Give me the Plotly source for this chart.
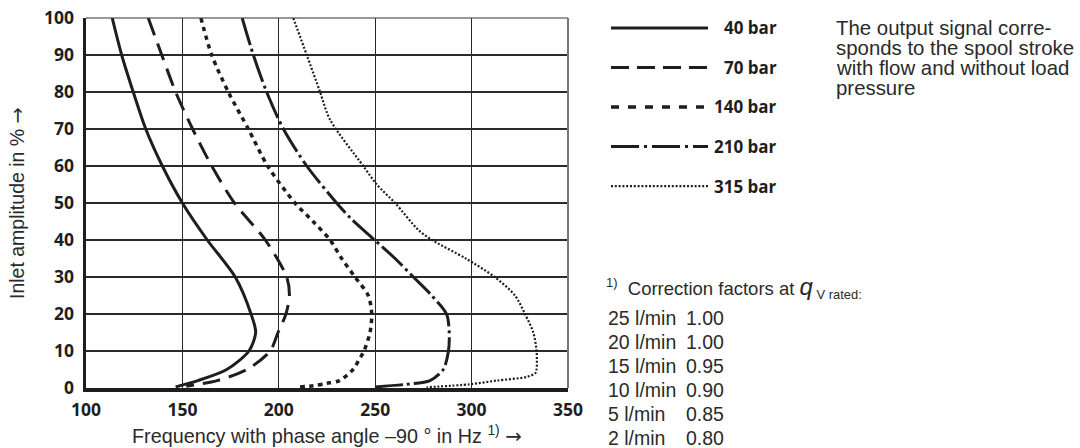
import plotly.graph_objects as go

# ---------------- data ----------------
series_names = ["40 bar", "70 bar", "140 bar", "210 bar", "315 bar"]

amp_40 = [100, 90, 80, 70, 60, 50, 40, 30, 20, 15, 10, 5, 2, 0.3]
freq_40 = [113.6, 118.5, 124.5, 131, 139.6, 150, 162.9, 177.4, 185.6, 188, 184.5, 173, 158, 146.5]

amp_70 = [100, 90, 80, 70, 60, 50, 40, 30, 25, 20, 15, 10, 5, 2, 0.5]
freq_70 = [132.3, 139.3, 146.5, 155.3, 165.2, 177, 193, 204.1, 205.5, 203.7, 199.6, 195.5, 183.5, 168, 152]

amp_140 = [100, 90, 80, 70, 60, 50, 45, 40, 35, 30, 25, 20, 15, 10, 8, 5, 2, 1.25, 0.6, 0.3]
freq_140 = [159.6, 165.2, 173.8, 184.2, 194.2, 208.4, 217.8, 226.6, 232.6, 239.5, 246.4, 248.2, 247.3, 244.2, 242,
            238.5, 231.5, 224.8, 217.9, 211]

amp_210 = [100, 90, 80, 70, 60, 50, 46, 40, 35, 30, 25, 20, 15, 10, 5, 2, 1, 0.3]
freq_210 = [181, 186.8, 193.7, 202.4, 214.5, 230, 237, 249.7, 260.3, 269.8, 279.3, 287, 288.4, 288, 285.3, 278.4,
            266, 250]

amp_315 = [100, 90, 80, 72.5, 60, 55, 50, 42.7, 40, 35, 30, 25, 20, 15, 10, 5, 4, 3, 2, 1, 0.2]
freq_315 = [207.5, 214.5, 221.4, 226.6, 243.8, 250.8, 260.3, 272.4, 279.5, 297, 312, 322.5, 327.7, 332, 333.7,
            333.7, 333, 328.6, 313, 299, 276.7]

x_ticks = [100, 150, 200, 250, 300, 350]
y_ticks = [0, 10, 20, 30, 40, 50, 60, 70, 80, 90, 100]

note_lines = ["The output signal corre-", "sponds to the spool stroke",
              "with flow and without load", "pressure"]
flow_rates = ["25 l/min", "20 l/min", "15 l/min", "10 l/min", "5 l/min", "2 l/min"]
factors = ["1.00", "1.00", "0.95", "0.90", "0.85", "0.80"]

# ---------------- styles ----------------
W, H = 1080, 448
INK = "#1e1e1e"
TXT = "#2a2a2a"
BOLD_FONT = "Open Sans"
REG_FONT = "Liberation Sans, Arial, sans-serif"

curve_styles = [
    dict(width=3, dash="solid"),
    dict(width=3, dash="18px,9px"),
    dict(width=3.5, dash="4.5px,4.5px"),
    dict(width=3, dash="28px,4px,3px,4px"),
    dict(width=2.2, dash="2px,1.8px"),
]
legend_styles = [
    dict(width=3, dash="solid"),
    dict(width=3, dash="18px,8px"),
    dict(width=3.5, dash="8px,9px"),
    dict(width=3, dash="28px,5px,3px,5px"),
    dict(width=2.2, dash="2px,1.8px"),
]

def px_x(p):
    return p / W

def px_y(p):
    return 1 - p / H

fig = go.Figure()

amps = [amp_40, amp_70, amp_140, amp_210, amp_315]
freqs = [freq_40, freq_70, freq_140, freq_210, freq_315]
for name, f, a, st in zip(series_names, freqs, amps, curve_styles):
    fig.add_trace(go.Scatter(
        x=f, y=a, mode="lines", name=name, showlegend=False,
        line=dict(color=INK, width=st["width"], dash=st["dash"], shape="spline", smoothing=0.8),
        xaxis="x", yaxis="y", hoverinfo="skip"))

# legend samples drawn in a separate small axes
for i, (name, st) in enumerate(zip(series_names, legend_styles)):
    fig.add_trace(go.Scatter(
        x=[0, 1], y=[i, i], mode="lines", showlegend=False,
        line=dict(color=INK, width=st["width"], dash=st["dash"]),
        xaxis="x2", yaxis="y2", hoverinfo="skip"))

ARROW = "<span style='font-family:DejaVu Sans'>\u2192</span>"

annotations = []
for i, name in enumerate(series_names):
    annotations.append(dict(
        x=px_x(779), xref="paper", xanchor="right", y=i, yref="y2", yanchor="middle",
        text=name, showarrow=False,
        font=dict(family=BOLD_FONT, size=17, color=INK, weight="bold")))

for i, line in enumerate(note_lines):
    annotations.append(dict(
        x=px_x(834), xref="paper", xanchor="left", y=px_y(28 + 20 * i), yref="paper", yanchor="middle",
        text=line, showarrow=False, font=dict(family=REG_FONT, size=20.4, color=TXT)))

annotations.append(dict(
    x=px_x(604), xref="paper", xanchor="left", y=px_y(287), yref="paper", yanchor="middle",
    text="<sup>1)</sup>  Correction factors at <span style='font-size:24px'><i>q</i></span><sub> V rated:</sub>",
    showarrow=False, font=dict(family=REG_FONT, size=18.5, color=TXT)))

for i, (fr, fa) in enumerate(zip(flow_rates, factors)):
    yy = px_y(318 + 23.9 * i)
    annotations.append(dict(x=px_x(606), xref="paper", xanchor="left", y=yy, yref="paper", yanchor="middle",
                            text=fr, showarrow=False, font=dict(family=REG_FONT, size=19.5, color=TXT)))
    annotations.append(dict(x=px_x(684), xref="paper", xanchor="left", y=yy, yref="paper", yanchor="middle",
                            text=fa, showarrow=False, font=dict(family=REG_FONT, size=19.5, color=TXT)))

annotations.append(dict(
    x=px_x(327), xref="paper", xanchor="center", y=px_y(435), yref="paper", yanchor="middle",
    text="Frequency with phase angle \u201390 \u00b0 in Hz <sup>1)</sup> " + ARROW,
    showarrow=False, font=dict(family=REG_FONT, size=19.8, color=TXT)))
annotations.append(dict(
    x=px_x(17), xref="paper", xanchor="center", y=px_y(203), yref="paper", yanchor="middle",
    text="Inlet amplitude in % " + ARROW, textangle=-90,
    showarrow=False, font=dict(family=REG_FONT, size=19.5, color=TXT)))

shapes = [
    dict(type="line", xref="x domain", yref="y domain", x0=0, x1=1, y0=1, y1=1,
         line=dict(color="#333", width=1.2)),
    dict(type="line", xref="x domain", yref="y domain", x0=1, x1=1, y0=0, y1=1,
         line=dict(color="#777", width=2)),
]

tick_font = dict(family=BOLD_FONT, size=17.5, color=INK, weight="bold")

fig.update_layout(
    width=W, height=H,
    margin=dict(l=0, r=0, t=0, b=0),
    paper_bgcolor="white", plot_bgcolor="white",
    showlegend=False,
    xaxis=dict(domain=[px_x(86), px_x(568)], range=[100, 350],
               tickvals=x_ticks, ticktext=[str(v) for v in x_ticks],
               showgrid=True, gridcolor="#2a2a2a", gridwidth=1.2,
               showline=True, linecolor=INK, linewidth=3.5, zeroline=False,
               ticks="", ticklabelstandoff=3, tickfont=tick_font, automargin=False,
               anchor="y", fixedrange=True),
    yaxis=dict(domain=[px_y(388), px_y(18)], range=[0, 100],
               tickvals=y_ticks, ticktext=[str(v) for v in y_ticks],
               showgrid=True, gridcolor="#2a2a2a", gridwidth=1.2,
               showline=True, linecolor=INK, linewidth=3.5, zeroline=False,
               ticks="", ticklabelstandoff=5, tickfont=tick_font, automargin=False,
               anchor="x", fixedrange=True),
    xaxis2=dict(domain=[px_x(611), px_x(708)], range=[0, 1], visible=False, anchor="y2", fixedrange=True),
    yaxis2=dict(domain=[px_y(196), px_y(18)], range=[4.25, -0.25], visible=False, anchor="x2", fixedrange=True),
    annotations=annotations,
    shapes=shapes,
)

fig.write_html("out.html",
               config={"displayModeBar": False, "staticPlot": True},
               post_script="document.body.style.margin='0';document.body.style.padding='0';"
                           "document.documentElement.style.overflow='hidden';")
